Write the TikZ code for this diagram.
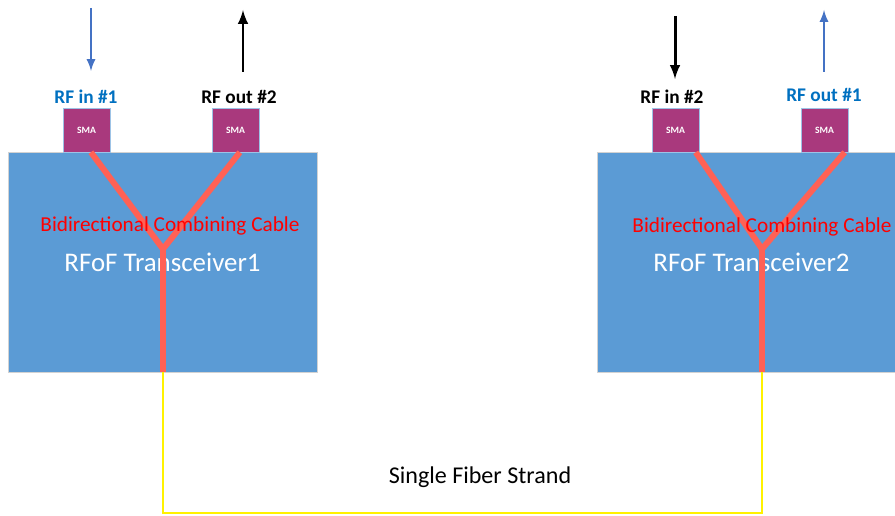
\documentclass[tikz,border=0pt]{standalone}
\usepackage{fontspec}
\setmainfont{Carlito}
\usepackage{tikz}
\usetikzlibrary{positioning}
\definecolor{trxblue}{HTML}{5B9BD5}
\definecolor{smapurple}{HTML}{A9397D}
\definecolor{cablered}{HTML}{FF6155}
\definecolor{rfblue}{HTML}{0070C0}
\definecolor{arrowblue}{HTML}{4472C4}
\newcommand\fs[1]{\fontsize{#1}{#1}\selectfont}
\tikzset{
  trx/.style={fill=trxblue, draw=gray!35, line width=0.4pt, minimum width=6.18cm,
    minimum height=4.4cm, text=white, font=\fs{15.3}, inner sep=0pt},
  smabox/.style={fill=smapurple, draw=trxblue!60, line width=0.3pt, minimum width=0.94cm,
    minimum height=0.88cm, text=white, font=\bfseries\fs{5.5}, inner sep=0pt},
  rflabel/.style={font=\bfseries\fs{11}, inner sep=0pt},
  cable/.style={cablered, line width=3.4pt},
  fiber/.style={yellow, line width=1.6pt},
  cablelabel/.style={text=red, font=\fs{12.1}, inner sep=0pt}
}

\begin{document}
\begin{tikzpicture}[x=0.02cm, y=-0.02cm, >=latex]
      \useasboundingbox (0,0) rectangle (895,516);

      \coordinate (Yone) at (163, 249);
      \coordinate (Ytwo) at (762, 249);
      \coordinate (Bone) at (163, 372);
      \coordinate (Btwo) at (762, 372);
      \coordinate (Fone) at (163, 513);
      \coordinate (Ftwo) at (762, 513);

      \coordinate (Inonet) at (91, 8);
      \coordinate (Inoneb) at (91, 71);
      \coordinate (Outtwob) at (243, 72);
      \coordinate (Outtwot) at (243, 10);
      \coordinate (Intwot) at (675, 16);
      \coordinate (Intwob) at (675, 79);
      \coordinate (Outoneb) at (824, 72);
      \coordinate (Outonet) at (824, 10);

      \node[trx] (Trxone) at (162.5, 262) {RFoF Transceiver1};
      \node[trx] (Trxtwo) at (751.5, 262.5) {RFoF Transceiver2};

      \node[smabox] (Smaone) at (86.5, 130) {SMA};
      \node[smabox] (Smatwo) at (235.5, 130) {SMA};
      \node[smabox] (Smathree) at (675.5, 130) {SMA};
      \node[smabox] (Smafour) at (824.5, 130) {SMA};

      \node[rflabel, text=rfblue] (Rfinone) at (86, 97) {RF in \#1};
      \node[rflabel] (Rfouttwo) at (239, 97) {RF out \#2};
      \node[rflabel] (Rfintwo) at (672, 97) {RF in \#2};
      \node[rflabel, text=rfblue] (Rfoutone) at (824, 95) {RF out \#1};

      % fiber between the two transceivers
      \draw[fiber] (Bone) -- (Fone) -- (Ftwo) -- (Btwo);

      % combining cables
      \draw[cable] ([xshift=2.5]Smaone.south) -- (Yone);
      \draw[cable] ([xshift=2.5]Smatwo.south) -- (Yone);
      \draw[cable] (Yone) -- (Bone);
      \draw[cable] ([xshift=11.5]Smathree.south) -- (Ytwo);
      \draw[cable] ([xshift=11.5]Smafour.south) -- (Ytwo);
      \draw[cable] (Ytwo) -- (Btwo);

      \node[cablelabel] (Bidone) at (170, 226) {Bidirectional Combining Cable};
      \node[cablelabel] (Bidtwo) at (762, 227) {Bidirectional Combining Cable};

      \node[font=\fs{13.7}, inner sep=0pt] (Strand) at (480, 477) {Single Fiber Strand};

      \draw[->, arrowblue, line width=1.3pt] (Inonet) -- (Inoneb);
      \draw[->, line width=1.7pt] (Outtwob) -- (Outtwot);
      \draw[->, line width=1.7pt] (Intwot) -- (Intwob);
      \draw[->, arrowblue, line width=1.3pt] (Outoneb) -- (Outonet);
\end{tikzpicture}
\end{document}
